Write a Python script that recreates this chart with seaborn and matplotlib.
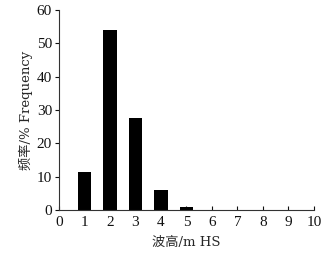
import numpy as np
import pandas as pd
import matplotlib
matplotlib.use('Agg')
import matplotlib.pyplot as plt
import seaborn as sns

# 波高分布数据
wave_height = [1, 2, 3, 4, 5, 6, 7, 8, 9, 10]
frequency = [11.3, 54.0, 27.6, 6.0, 0.8, 0.0, 0.0, 0.0, 0.0, 0.0]
x_ticks = list(range(0, 11))
y_ticks = [0, 10, 20, 30, 40, 50, 60]

df = pd.DataFrame({'hs': wave_height, 'freq': frequency})

sns.set_style('ticks')
fonts = ['Liberation Serif', 'Noto Sans CJK SC']
plt.rcParams['font.family'] = fonts

fig = plt.figure(figsize=(3.35, 2.59), dpi=100)
ax = fig.add_axes([0.176, 0.189, 0.761, 0.772])
sns.barplot(data=df, x='hs', y='freq', native_scale=True, width=0.52,
            color='black', edgecolor='black', linewidth=0, ax=ax)

ax.set_xlim(0, 10)
ax.set_ylim(0, 60)
ax.set_xticks(x_ticks)
ax.set_yticks(y_ticks)
ax.set_xticklabels([str(t) for t in x_ticks], family=fonts, fontsize=11)
ax.set_yticklabels([str(t) for t in y_ticks], family=fonts, fontsize=11)
ax.tick_params(axis='x', direction='in', length=3, width=0.8, pad=4, colors='#111111')
ax.tick_params(axis='y', direction='out', length=3, width=0.8, pad=2, colors='#111111')
for s in ['top', 'right']:
    ax.spines[s].set_visible(False)
for s in ['left', 'bottom']:
    ax.spines[s].set_linewidth(0.8)
    ax.spines[s].set_color('#333333')

ax.set_xlabel('波高/m HS', fontsize=9.5, family=['DejaVu Serif', 'Noto Sans CJK SC'], labelpad=5)
ax.set_ylabel('频率/% Frequency', fontsize=9.5, family=['DejaVu Serif', 'Noto Sans CJK SC'], labelpad=3)

fig.savefig('out.png', dpi=100)
